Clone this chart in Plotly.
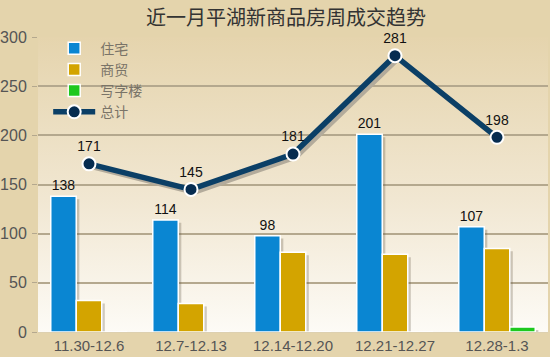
import base64
import plotly.graph_objects as go

categories = ["11.30-12.6", "12.7-12.13", "12.14-12.20", "12.21-12.27", "12.28-1.3"]
residential = [138, 114, 98, 201, 107]
commercial = [32, 29, 81, 79, 85]
office = [0, 0, 0, 0, 5]
total = [171, 145, 181, 281, 198]
series_names = ["住宅", "商贸", "写字楼", "总计"]
title_text = "近一月平湖新商品房周成交趋势"

idx = list(range(len(categories)))

svg = ('<svg xmlns="http://www.w3.org/2000/svg" width="100" height="100" preserveAspectRatio="none">'
       '<defs><linearGradient id="g" x1="0" y1="0" x2="0" y2="1">'
       '<stop offset="0" stop-color="#e5d4ad"/><stop offset="0.55" stop-color="#f1e7d2"/>'
       '<stop offset="1" stop-color="#fdfbf6"/></linearGradient></defs>'
       '<rect width="100" height="100" fill="url(#g)"/></svg>')
src = "data:image/svg+xml;base64," + base64.b64encode(svg.encode()).decode()

fig = go.Figure()

# anchor trace on main axes
fig.add_trace(go.Scatter(x=idx, y=[None] * len(idx), showlegend=False, hoverinfo="skip"))

shadow = "rgba(90,80,60,0.28)"
for vals in (residential, commercial, office):
    fig.add_trace(go.Bar(x=idx, y=vals, marker=dict(color=shadow, line=dict(width=0)),
                         showlegend=False, hoverinfo="skip", xaxis="x2", yaxis="y2"))
fig.add_trace(go.Scatter(x=idx, y=total, mode="lines", line=dict(color="#b3ab9b", width=5),
                         showlegend=False, hoverinfo="skip", xaxis="x2", yaxis="y2"))

fig.add_trace(go.Bar(x=idx, y=residential, name=series_names[0],
                     marker=dict(color="#0a86d2", line=dict(color="white", width=1.5)),
                     text=residential, textposition="outside", cliponaxis=False,
                     textfont=dict(family="Liberation Sans, Arial", size=14, color="#111"),
                     xaxis="x3", yaxis="y3"))
fig.add_trace(go.Bar(x=idx, y=commercial, name=series_names[1],
                     marker=dict(color="#d3a400", line=dict(color="white", width=1.5)),
                     xaxis="x3", yaxis="y3"))
fig.add_trace(go.Bar(x=idx, y=office, name=series_names[2],
                     marker=dict(color="#1ec81e", line=dict(color="white", width=1.5)),
                     xaxis="x3", yaxis="y3"))
fig.add_trace(go.Scatter(x=idx, y=total, name=series_names[3], mode="lines+markers+text",
                         line=dict(color="#0b3f66", width=5.5),
                         marker=dict(color="#062c50", size=13, line=dict(color="white", width=2)),
                         text=total, textposition="top center", cliponaxis=False,
                         textfont=dict(family="Liberation Sans, Arial", size=14, color="#111"),
                         xaxis="x3", yaxis="y3"))

dx = 0.03
dy = 3.0
fig.update_layout(
    width=550, height=357,
    margin=dict(l=38, r=2, t=37, b=25, autoexpand=False),
    paper_bgcolor="#e4d4ac",
    plot_bgcolor="rgba(0,0,0,0)",
    barmode="group", bargap=0.25, bargroupgap=0,
    title=dict(text=title_text, x=0.52, xanchor="center", y=0.95, yanchor="middle",
               font=dict(family="Noto Sans CJK SC", size=20, color="#333")),
    showlegend=True,
    legend=dict(x=0.02, y=1.015, xanchor="left", yanchor="top", bgcolor="rgba(0,0,0,0)",
                font=dict(family="Noto Sans CJK SC", size=14, color="#7a7468"),
                tracegroupgap=0, itemwidth=42),
    xaxis=dict(range=[-0.5, 4.5], tickvals=idx, ticktext=categories, showgrid=False,
               zeroline=False, showline=True, linecolor="#ddd0b0", linewidth=1, ticks="",
               tickfont=dict(family="Liberation Sans, Arial", size=15, color="#555")),
    yaxis=dict(range=[0, 300], tickvals=[0, 50, 100, 150, 200, 250, 300], showgrid=True,
               gridcolor="#b4a88e", gridwidth=1.5, zeroline=False, ticks="outside",
               ticklen=5, tickcolor="#b4a88e", ticklabelstandoff=2,
               tickfont=dict(family="Liberation Sans, Arial", size=16, color="#555")),
    xaxis2=dict(range=[-0.5 - dx, 4.5 - dx], overlaying="x", visible=False),
    yaxis2=dict(range=[dy, 300 + dy], overlaying="y", visible=False),
    xaxis3=dict(range=[-0.5, 4.5], overlaying="x", visible=False),
    yaxis3=dict(range=[0, 300], overlaying="y", visible=False),
    images=[dict(source=src, xref="paper", yref="paper", x=0, y=1, sizex=1, sizey=1,
                 sizing="stretch", layer="below", xanchor="left", yanchor="top")],
)

fig.write_html("out.html", config={"displayModeBar": False},
               post_script="document.body.style.margin='0';document.body.style.overflow='hidden';")
